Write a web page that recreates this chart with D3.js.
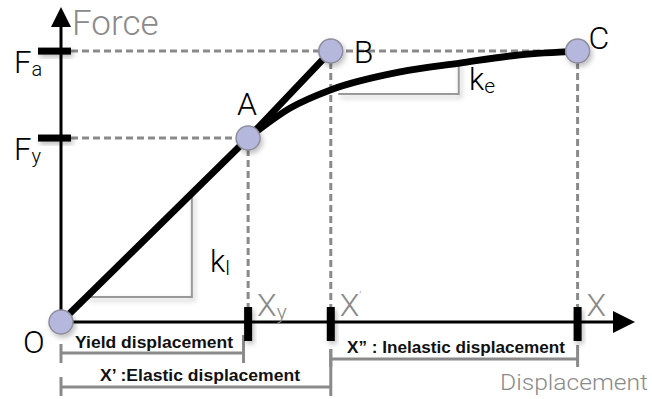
<!DOCTYPE html>
<meta charset="utf-8">
<style>
    body { margin: 0; background: #fff; }
    text { font-family: Roboto, "Liberation Sans", Arial, sans-serif; font-weight: 300; }
    .gray { fill: #8a8a8a; }
    .bold { font-family: "Liberation Sans", Arial, sans-serif; font-weight: 700; fill: #111; }
</style>
<body>
<script src="https://cdn.jsdelivr.net/npm/d3@7"></script>
<script>

    var width = 652;
    var height = 399;

    // key points of the force-displacement diagram
    var pointNames = ["O", "A", "B", "C"];
    var pointDisp = [0, 3.26, 4.7, 9.0];
    var pointForce = [0, 5.84, 8.6, 8.6];

    // inelastic curve A -> C
    var curveDisp = [3.26, 3.99, 4.70, 5.91, 6.95, 8.00, 9.0];
    var curveForce = [5.84, 6.79, 7.37, 7.94, 8.22, 8.48, 8.6];

    // axis tick labels
    var forceTicks = ["a", "y"];          // F_a, F_y
    var forceTickValues = [8.6, 5.84];
    var dispTicks = ["y", "\u2019", ""];  // X_y, X', X
    var dispTickValues = [3.26, 4.7, 9.0];

    // slope triangles [x0, x1, yBase, yTop]
    var slopeNames = ["l", "e"];
    var slopeX0 = [0.45, 4.83];
    var slopeX1 = [2.28, 6.93];
    var slopeY0 = [0.79, 7.24];
    var slopeY1 = [4.13, 8.22];

    // dimension brackets under the axis
    var dimLabels = ["Yield displacement", "X\u2019 :Elastic displacement", "X\u201D : Inelastic displacement"];
    var dimFrom = [0, 0, 4.7];
    var dimTo = [3.18, 4.7, 9.0];

    var x = d3.scaleLinear().domain([0, 10]).range([61, 635]);
    var y = d3.scaleLinear().domain([0, 10]).range([322, 7]);

    var svg = d3.select("body").append("svg")
        .attr("width", width)
        .attr("height", height);

    var defs = svg.append("defs");
    var f = defs.append("filter").attr("id", "shadow")
        .attr("x", "-50%").attr("y", "-50%").attr("width", "200%").attr("height", "200%");
    f.append("feDropShadow").attr("dx", 2).attr("dy", 3).attr("stdDeviation", 2.5)
        .attr("flood-color", "#000").attr("flood-opacity", 0.25);

    var gray = "#8a8a8a";

    // dashed guide lines
    var guides = svg.append("g")
        .attr("stroke", gray)
        .attr("stroke-width", 3)
        .attr("stroke-dasharray", "7,4");

    forceTickValues.forEach(function (v, i) {
        var xEnd = i === 0 ? x(pointDisp[3]) : x(pointDisp[1]);
        guides.append("line")
            .attr("x1", x(0) + 10).attr("x2", xEnd)
            .attr("y1", y(v)).attr("y2", y(v));
    });
    [1, 2, 3].forEach(function (i) {
        guides.append("line")
            .attr("x1", x(pointDisp[i])).attr("x2", x(pointDisp[i]))
            .attr("y1", y(pointForce[i])).attr("y2", y(0));
    });

    // slope triangles
    var tri = svg.append("g")
        .attr("fill", "none")
        .attr("stroke", "#999")
        .attr("stroke-width", 2)
        .attr("filter", "url(#shadow)");
    slopeNames.forEach(function (n, i) {
        tri.append("polyline")
            .attr("points", [
                [x(slopeX0[i]), y(slopeY0[i])],
                [x(slopeX1[i]), y(slopeY0[i])],
                [x(slopeX1[i]), y(slopeY1[i])]
            ].join(" "));
    });

    // dimension brackets
    var dimY = [353, 387, 359];
    var dimTopL = [344, 377, 349];
    var dimTopR = [335, 349, 345];
    var dimBot = [363, 396, 367];
    var dims = svg.append("g").attr("stroke", gray).attr("stroke-width", 3);
    dimLabels.forEach(function (t, i) {
        dims.append("line")
            .attr("x1", x(dimFrom[i])).attr("x2", x(dimTo[i]))
            .attr("y1", dimY[i]).attr("y2", dimY[i]);
        dims.append("line")
            .attr("x1", x(dimFrom[i])).attr("x2", x(dimFrom[i]))
            .attr("y1", dimTopL[i]).attr("y2", dimBot[i]);
        dims.append("line")
            .attr("x1", x(dimTo[i])).attr("x2", x(dimTo[i]))
            .attr("y1", dimTopR[i]).attr("y2", dimBot[i]);
    });
    var dimTextX = [75, 100, 347];
    var dimTextY = [348, 381, 353];
    var dimTextW = [158, 200, 218];
    dimLabels.forEach(function (t, i) {
        svg.append("text")
            .attr("class", "bold")
            .attr("x", dimTextX[i])
            .attr("y", dimTextY[i])
            .attr("font-size", 17)
            .attr("textLength", dimTextW[i])
            .attr("lengthAdjust", "spacingAndGlyphs")
            .text(t);
    });

    // axes
    var axes = svg.append("g");
    axes.append("line")
        .attr("x1", x(0)).attr("x2", x(0))
        .attr("y1", y(0)).attr("y2", y(10) + 18)
        .attr("stroke", "#000").attr("stroke-width", 3);
    axes.append("path")
        .attr("d", "M" + x(0) + "," + y(10) + "l-10,20h20z")
        .attr("fill", "#000");
    axes.append("line")
        .attr("x1", x(0)).attr("x2", x(10) - 18)
        .attr("y1", y(0)).attr("y2", y(0))
        .attr("stroke", "#000").attr("stroke-width", 3);
    axes.append("path")
        .attr("d", "M" + x(10) + "," + y(0) + "l-22,-11v22z")
        .attr("fill", "#000");

    // axis tick bars
    forceTickValues.forEach(function (v) {
        svg.append("rect")
            .attr("x", x(0) - 23).attr("y", y(v) - 3.5)
            .attr("width", 33).attr("height", 7)
            .attr("fill", "#000")
            .attr("filter", "url(#shadow)");
    });
    dispTickValues.forEach(function (v) {
        svg.append("rect")
            .attr("x", x(v) - 4).attr("y", y(0) - 15)
            .attr("width", 8).attr("height", 34)
            .attr("fill", "#000")
            .attr("filter", "url(#shadow)");
    });

    // curves
    var line = d3.line()
        .x(function (d) { return x(d[0]); })
        .y(function (d) { return y(d[1]); });
    svg.append("path")
        .attr("d", line([[pointDisp[0], pointForce[0]], [pointDisp[1], pointForce[1]], [pointDisp[2], pointForce[2]]]))
        .attr("fill", "none").attr("stroke", "#000").attr("stroke-width", 6.8);
    svg.append("path")
        .attr("d", line.curve(d3.curveMonotoneX)(d3.zip(curveDisp, curveForce)))
        .attr("fill", "none").attr("stroke", "#000").attr("stroke-width", 6.8);

    // points
    svg.selectAll("circle.pt")
        .data(pointNames)
        .enter().append("circle")
        .attr("class", "pt")
        .attr("cx", function (d, i) { return x(pointDisp[i]); })
        .attr("cy", function (d, i) { return y(pointForce[i]); })
        .attr("r", 12)
        .attr("fill", "#b5b7dd")
        .attr("stroke", "#8e8e9c")
        .attr("stroke-width", 1.5)
        .attr("filter", "url(#shadow)");

    // point labels
    var ptDx = [-38, -11, 23, 11];
    var ptDy = [31, -23, 12, -2];
    svg.selectAll("text.pt")
        .data(pointNames)
        .enter().append("text")
        .attr("class", "pt")
        .attr("x", function (d, i) { return x(pointDisp[i]) + ptDx[i]; })
        .attr("y", function (d, i) { return y(pointForce[i]) + ptDy[i]; })
        .attr("font-size", 32)
        .text(function (d) { return d; });

    // axis titles
    svg.append("text").attr("class", "gray")
        .attr("x", 72).attr("y", 35).attr("font-size", 35).text("Force");
    svg.append("text").attr("class", "gray")
        .attr("x", 500).attr("y", 390).attr("font-size", 22)
        .attr("textLength", 148).attr("lengthAdjust", "spacingAndGlyphs")
        .text("Displacement");

    // force tick labels
    forceTicks.forEach(function (s, i) {
        var t = svg.append("text")
            .attr("x", 14).attr("y", y(forceTickValues[i]) + 22)
            .attr("font-size", 31);
        t.append("tspan").text("F");
        t.append("tspan").attr("font-size", 20).attr("dy", 3).text(s);
    });

    // displacement tick labels
    dispTicks.forEach(function (s, i) {
        var t = svg.append("text").attr("class", "gray")
            .attr("x", x(dispTickValues[i]) + 9).attr("y", y(0) - 6)
            .attr("font-size", 32);
        t.append("tspan").text("X");
        if (s === "y") {
            t.append("tspan").attr("font-size", 21).attr("dy", 3).text(s);
        } else if (s) {
            t.append("tspan").attr("font-size", 10).attr("dy", -17).text(s);
        }
    });

    // slope labels
    var slopeLabX = [210, 469];
    var slopeLabY = [272, 90];
    slopeNames.forEach(function (s, i) {
        var t = svg.append("text")
            .attr("x", slopeLabX[i]).attr("y", slopeLabY[i])
            .attr("font-size", 31);
        t.append("tspan").text("k");
        t.append("tspan").attr("font-size", 21).attr("dy", 3).text(s);
    });

</script>
</body>
</html>
